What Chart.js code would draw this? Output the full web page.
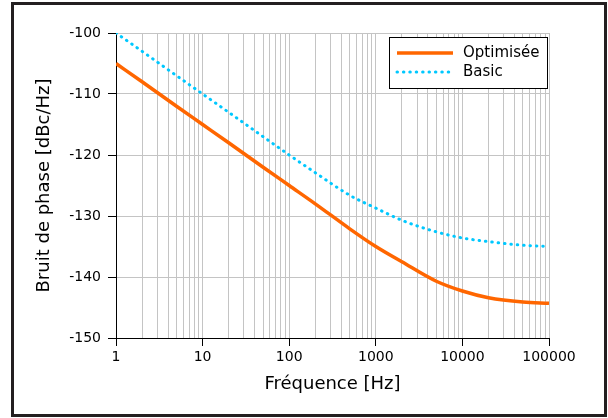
<!DOCTYPE html>
<html>
<head>
<meta charset="utf-8">
<script src="https://cdn.jsdelivr.net/npm/chart.js@4"></script>
<style>
  html, body { margin: 0; padding: 0; background: #fff; }
  #wrap { position: relative; width: 608px; height: 418px; }
  #c { position: absolute; left: 0; top: 0; }
  #frame { position: absolute; left: 11px; top: 2px; width: 596px; height: 415px;
           box-sizing: border-box; border: 3px solid #231f20; pointer-events: none; }
</style>
</head>
<body>
<div id="wrap">
  <canvas id="c" width="608" height="418"></canvas>
  <div id="frame"></div>
</div>
<script>
// ---- data ----
const frequencies = [1, 2, 5, 10, 20, 50, 100, 200, 500, 1000, 2000, 5000, 10000, 20000, 50000, 100000];
const optimisee  = [-105, -108, -112, -115, -118, -122, -125, -128, -132.1, -135, -137.5, -140.7, -142.3, -143.4, -144.1, -144.3];
const basic      = [-100, -103, -107, -110, -113, -117, -120, -122.9, -126.6, -128.7, -130.7, -132.6, -133.6, -134.2, -134.8, -135];
const seriesNames = ['Optimisée', 'Basic'];
const xTickValues = [];
for (let e = 0; e <= 4; e++) for (let m = 1; m <= 9; m++) xTickValues.push(m * Math.pow(10, e));
xTickValues.push(100000);
const yTickValues = [-150, -140, -130, -120, -110, -100];
const xTitle = 'Fréquence [Hz]';
const yTitle = 'Bruit de phase [dBc/Hz]';

const FONT = 'DejaVu Sans';
const ORANGE = '#ff6600';
const CYAN = '#00c8ff';
const GRID = '#c4c4c4';
const isPow10 = v => Math.abs(Math.log10(v) - Math.round(Math.log10(v))) < 1e-9;

const legendPlugin = {
  id: 'boxLegend',
  afterDraw(chart) {
    const ctx = chart.ctx;
    const x0 = 389.5, y0 = 37.5, w = 158, h = 51;
    ctx.save();
    ctx.fillStyle = '#fff';
    ctx.fillRect(x0, y0, w, h);
    ctx.strokeStyle = '#000';
    ctx.lineWidth = 1;
    ctx.strokeRect(x0, y0, w, h);
    const rows = [53, 72];
    chart.data.datasets.forEach((ds, i) => {
      const y = rows[i];
      ctx.beginPath();
      ctx.strokeStyle = ds.borderColor;
      ctx.lineWidth = ds.borderWidth;
      ctx.lineCap = ds.borderCapStyle || 'butt';
      ctx.setLineDash(ds.borderDash || []);
      ctx.moveTo(397, y);
      ctx.lineTo(453, y);
      ctx.stroke();
      ctx.setLineDash([]);
      ctx.fillStyle = '#000';
      ctx.font = '15px "' + FONT + '"';
      ctx.textAlign = 'left';
      ctx.textBaseline = 'middle';
      ctx.fillText(ds.label, 463, y);
    });
    ctx.restore();
  }
};

new Chart(document.getElementById('c'), {
  type: 'scatter',
  data: {
    datasets: [
      {
        label: seriesNames[0],
        data: frequencies.map((f, i) => ({ x: f, y: optimisee[i] })),
        showLine: true,
        borderColor: ORANGE,
        backgroundColor: ORANGE,
        borderWidth: 3.5,
        pointRadius: 0,
        cubicInterpolationMode: 'monotone',
        borderCapStyle: 'butt'
      },
      {
        label: seriesNames[1],
        data: frequencies.map((f, i) => ({ x: f, y: basic[i] })),
        showLine: true,
        borderColor: CYAN,
        backgroundColor: CYAN,
        borderWidth: 3,
        borderDash: [0.5, 5.9],
        borderCapStyle: 'round',
        pointRadius: 0,
        cubicInterpolationMode: 'monotone'
      }
    ]
  },
  options: {
    responsive: false,
    animation: false,
    layout: { padding: { left: 0, right: 59, top: 33, bottom: 0 } },
    plugins: { legend: { display: false }, tooltip: { enabled: false } },
    scales: {
      x: {
        type: 'logarithmic',
        min: 1,
        max: 100000,
        afterBuildTicks(scale) { scale.ticks = xTickValues.map(v => ({ value: v })); },
        afterFit(scale) { scale.height = 80; },
        ticks: {
          autoSkip: false,
          maxRotation: 0,
          minRotation: 0,
          padding: 3,
          color: '#000',
          font: { family: FONT, size: 14 },
          callback: (v) => isPow10(v) ? String(v) : ''
        },
        grid: {
          color: GRID,
          lineWidth: 1,
          tickLength: 8,
          tickColor: (ctx) => (ctx.tick && isPow10(ctx.tick.value)) ? '#000' : 'rgba(0,0,0,0)'
        },
        border: { display: true, color: '#000', width: 1 },
        title: {
          display: true,
          text: xTitle,
          color: '#000',
          font: { family: FONT, size: 18 },
          padding: { top: 0, bottom: 23 }
        }
      },
      y: {
        type: 'linear',
        min: -150,
        max: -100,
        afterBuildTicks(scale) { scale.ticks = yTickValues.map(v => ({ value: v })); },
        afterFit(scale) { scale.width = 116; },
        ticks: {
          padding: 7,
          color: '#000',
          font: { family: FONT, size: 14 },
          callback: (v) => String(v)
        },
        grid: { color: GRID, lineWidth: 1, tickLength: 8, tickColor: '#000' },
        border: { display: true, color: '#000', width: 1 },
        title: {
          display: true,
          text: yTitle,
          color: '#000',
          font: { family: FONT, size: 18 },
          padding: { top: 34, bottom: 0 }
        }
      }
    }
  },
  plugins: [legendPlugin]
});
</script>
</body>
</html>
